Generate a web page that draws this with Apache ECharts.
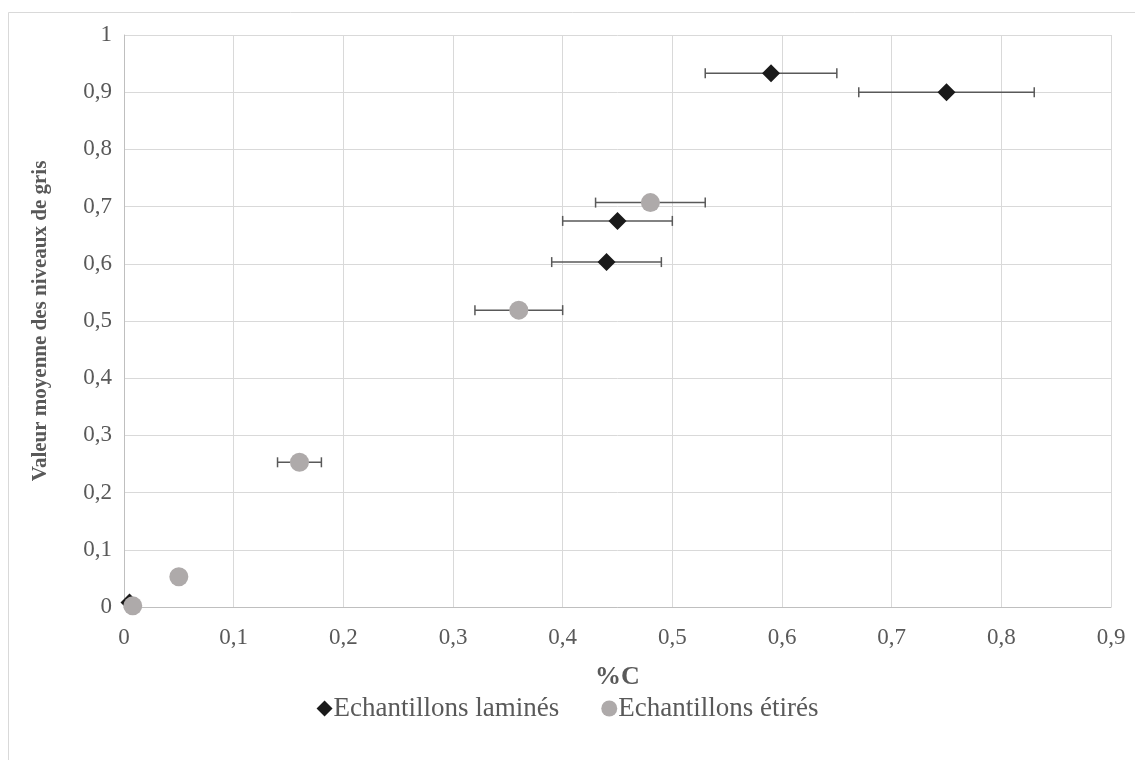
<!DOCTYPE html>
<html>
<head>
<meta charset="utf-8">
<script src="https://cdn.jsdelivr.net/npm/echarts@6/dist/echarts.min.js"></script>
<style>html,body{margin:0;padding:0;background:#fff}#c{width:1135px;height:760px}</style>
</head>
<body>
<div id="c"></div>
<script>
// Echantillons laminés
const laminesX = [0.005, 0.44, 0.45, 0.59, 0.75];
const laminesY = [0.008, 0.603, 0.675, 0.933, 0.90];
const laminesXLow = [null, 0.39, 0.40, 0.53, 0.67];
const laminesXHigh = [null, 0.49, 0.50, 0.65, 0.83];
// Echantillons étirés
const etiresX = [0.008, 0.05, 0.16, 0.36, 0.48];
const etiresY = [0.002, 0.053, 0.253, 0.519, 0.707];
const etiresXLow = [null, null, 0.14, 0.32, 0.43];
const etiresXHigh = [null, null, 0.18, 0.40, 0.53];

const seriesNames = ['Echantillons laminés', 'Echantillons étirés'];
const xTitle = '%C';
const yTitle = 'Valeur moyenne des niveaux de gris';

const fmt = v => String(+(+v).toFixed(1)).replace('.', ',');

function errData(xs, ys, lo, hi) {
  const out = [];
  for (let i = 0; i < xs.length; i++) {
    if (lo[i] != null) out.push([lo[i], hi[i], ys[i]]);
  }
  return out;
}
function renderErr(params, api) {
  const p1 = api.coord([api.value(0), api.value(2)]);
  const p2 = api.coord([api.value(1), api.value(2)]);
  const h = 5;
  const style = {stroke: '#595959', lineWidth: 1.5};
  return {
    type: 'group',
    children: [
      {type: 'line', shape: {x1: p1[0], y1: p1[1], x2: p2[0], y2: p2[1]}, style},
      {type: 'line', shape: {x1: p1[0], y1: p1[1] - h, x2: p1[0], y2: p1[1] + h}, style},
      {type: 'line', shape: {x1: p2[0], y1: p2[1] - h, x2: p2[0], y2: p2[1] + h}, style}
    ]
  };
}

const chart = echarts.init(document.getElementById('c'), null, {renderer: 'canvas'});
const font = '"Liberation Serif", "Times New Roman", serif';
chart.setOption({
  animation: false,
  backgroundColor: '#fff',
  textStyle: {fontFamily: font},
  graphic: [{
    type: 'rect', shape: {x: 8.5, y: 12.5, width: 1140, height: 760},
    style: {fill: 'none', stroke: '#d9d9d9', lineWidth: 1}, silent: true
  }],
  grid: {left: 124, right: 24, top: 35, bottom: 153},
  legend: {
    data: seriesNames,
    bottom: 33,
    left: 'center',
    itemWidth: 16, itemHeight: 16, itemGap: 42,
    textStyle: {fontFamily: font, fontSize: 27, color: '#595959', padding: [0, 0, 0, -4]}
  },
  xAxis: {
    type: 'value', min: 0, max: 0.9, interval: 0.1,
    name: xTitle, nameLocation: 'middle', nameGap: 57,
    nameTextStyle: {fontFamily: font, fontSize: 26, fontWeight: 'bold', color: '#595959'},
    axisLine: {show: true, onZero: false, lineStyle: {color: '#bfbfbf', width: 1}},
    axisTick: {show: false},
    axisLabel: {formatter: fmt, fontFamily: font, fontSize: 23, color: '#595959', margin: 19},
    splitLine: {show: true, lineStyle: {color: '#d9d9d9', width: 1}}
  },
  yAxis: {
    type: 'value', min: 0, max: 1, interval: 0.1,
    name: yTitle, nameLocation: 'middle', nameGap: 73,
    nameTextStyle: {fontFamily: font, fontSize: 21, fontWeight: 'bold', color: '#595959'},
    axisLine: {show: true, lineStyle: {color: '#bfbfbf', width: 1}},
    axisTick: {show: false},
    axisLabel: {formatter: fmt, fontFamily: font, fontSize: 23, color: '#595959', margin: 12},
    splitLine: {show: true, lineStyle: {color: '#d9d9d9', width: 1}}
  },
  series: [
    {
      type: 'custom', name: 'errL', renderItem: renderErr, z: 2,
      data: errData(laminesX, laminesY, laminesXLow, laminesXHigh),
      encode: {x: [0, 1], y: 2}, silent: true
    },
    {
      type: 'custom', name: 'errE', renderItem: renderErr, z: 2,
      data: errData(etiresX, etiresY, etiresXLow, etiresXHigh),
      encode: {x: [0, 1], y: 2}, silent: true
    },
    {
      type: 'scatter', name: seriesNames[0], symbol: 'diamond', symbolSize: 18, z: 3,
      itemStyle: {color: '#1a1a1a', opacity: 1},
      data: laminesX.map((x, i) => [x, laminesY[i]])
    },
    {
      type: 'scatter', name: seriesNames[1], symbol: 'circle', symbolSize: 19, z: 4,
      itemStyle: {color: '#aeaaaa', opacity: 1},
      data: etiresX.map((x, i) => [x, etiresY[i]])
    }
  ]
});
</script>
</body>
</html>
